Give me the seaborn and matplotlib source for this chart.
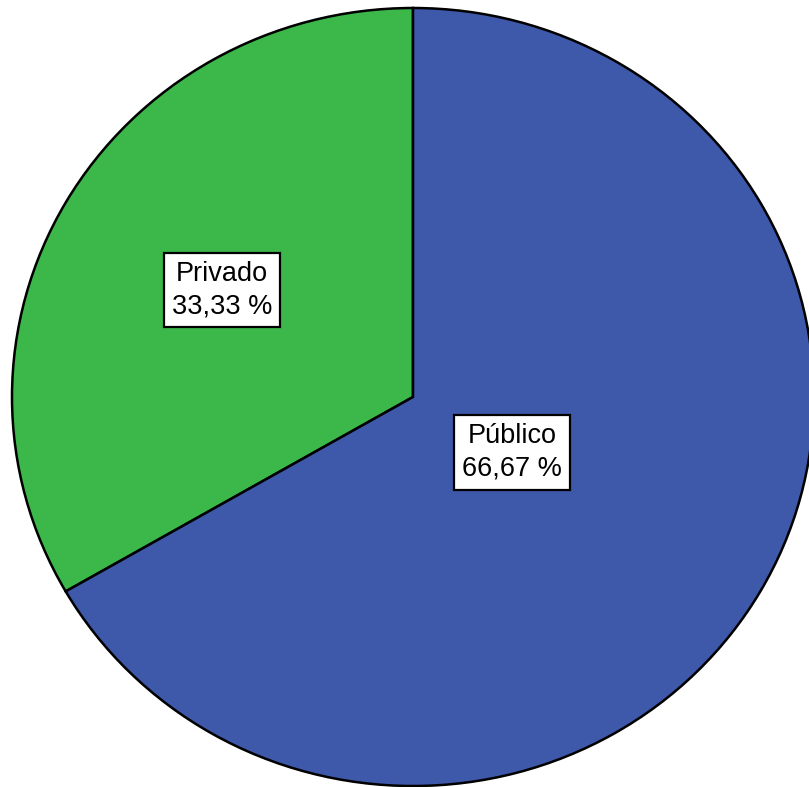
import numpy as np
import matplotlib
matplotlib.use("Agg")
import matplotlib.pyplot as plt
import seaborn as sns

# Share of institutions by sector
categories = ["Privado", "Público"]
percentages = [33.33, 66.67]
value_labels = ["33,33 %", "66,67 %"]
colors = ["#3cb84a", "#3e58aa"]

sns.set_theme(style="white")
plt.rcParams["font.family"] = ["Liberation Sans", "DejaVu Sans"]

W, H, DPI = 809, 787, 100
fig = plt.figure(figsize=(W / DPI, H / DPI), dpi=DPI)
fig.patch.set_facecolor("white")

# axes box in pixels: left, bottom, width, height
ax = fig.add_axes([12 / W, 1 / H, 802 / W, 778 / H])
wedges, _ = ax.pie(
    percentages,
    colors=colors,
    startangle=90,
    counterclock=True,
    radius=1.0,
    wedgeprops=dict(edgecolor="black", linewidth=1.8),
)
ax.set_aspect("auto")
ax.set_xlim(-1, 1)
ax.set_ylim(-1, 1)
ax.axis("off")

# label each slice at its middle angle
label_radius = [0.55, 0.285]
start = 90.0
for name, pct, lab, r in zip(categories, percentages, value_labels, label_radius):
    span = 360.0 * pct / sum(percentages)
    mid = np.deg2rad(start + span / 2)
    start += span
    ax.text(
        r * np.cos(mid), r * np.sin(mid), f"{name}\n{lab}",
        ha="center", va="center", fontsize=19.5, color="black",
        linespacing=1.3,
        bbox=dict(boxstyle="square,pad=0.3", facecolor="white",
                  edgecolor="black", linewidth=1.6),
    )

fig.savefig("out.png", dpi=DPI, facecolor="white")
